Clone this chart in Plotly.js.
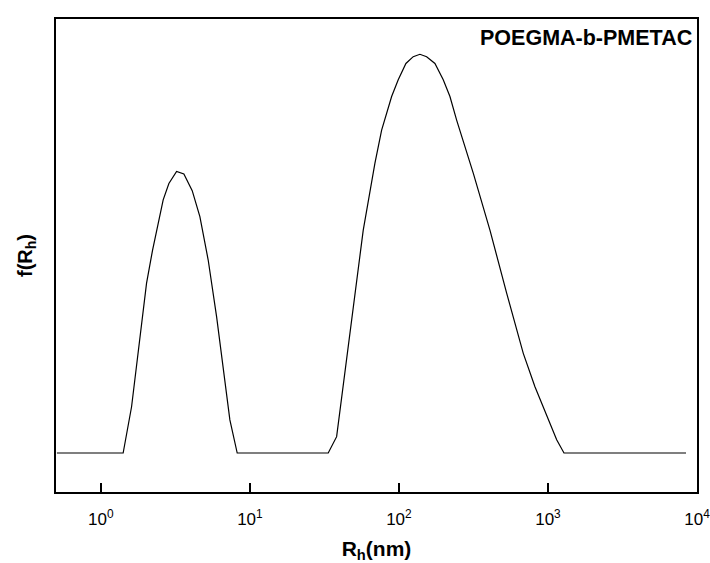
<!DOCTYPE html>
<html>
<head>
<meta charset="utf-8">
<script src="https://cdn.plot.ly/plotly-3.0.1.min.js"></script>
<style>html,body{margin:0;padding:0;background:#fff}#chart{width:710px;height:563px}</style>
</head>
<body>
<div id="chart"></div>
<script>
// Hydrodynamic radius (nm) and distribution f(Rh)
const rh = [0.507, 1.411, 1.607, 1.780, 2.026, 2.223, 2.489, 2.619, 2.860, 3.222, 3.606, 4.101, 4.617, 5.250, 5.977, 6.619, 7.339, 8.218,
            33.54, 38.19, 44.29, 50.67, 57.61, 69.03, 76.54, 89.33, 98.92, 111.4, 124.7, 138.3, 153.4, 174.4, 198.3, 219.9, 243.9, 315.3, 408.0, 528.2, 682.9, 817.8, 1004.7, 1144, 1281, 8438];
const fRh = [0, 0, 0.116, 0.258, 0.426, 0.509, 0.593, 0.635, 0.676, 0.706, 0.700, 0.658, 0.593, 0.484, 0.342, 0.216, 0.083, 0,
             0, 0.041, 0.225, 0.392, 0.559, 0.727, 0.810, 0.894, 0.936, 0.977, 0.994, 1.0, 0.994, 0.977, 0.936, 0.894, 0.835, 0.702, 0.559, 0.401, 0.250, 0.166, 0.083, 0.033, 0, 0];
const tickVals = [1, 10, 100, 1000, 10000];
const tickLabels = ['10<sup>0</sup>', '10<sup>1</sup>', '10<sup>2</sup>', '10<sup>3</sup>', '10<sup>4</sup>'];
const sampleLabel = 'POEGMA-b-PMETAC';

const trace = {x: rh, y: fRh, type: 'scatter', mode: 'lines', line: {color: '#000', width: 1.2}, hoverinfo: 'skip'};
const font = 'Liberation Sans, Arial, sans-serif';
const layout = {
  width: 710, height: 563,
  margin: {l: 56, r: 13, t: 19, b: 71},
  paper_bgcolor: '#fff', plot_bgcolor: '#fff',
  showlegend: false,
  font: {family: font, color: '#000'},
  xaxis: {
    type: 'log', range: [Math.log10(0.5), 4],
    tickmode: 'array', tickvals: tickVals, ticktext: tickLabels,
    ticks: 'inside', ticklen: 9, tickwidth: 1.5, tickcolor: '#000',
    ticklabelstandoff: 11, ticklabeloverflow: 'allow',
    showline: true, linecolor: '#000', linewidth: 2, mirror: true,
    showgrid: false, zeroline: false,
    tickfont: {family: font, size: 17, color: '#000'},
    title: {text: '<b>R<sub>h</sub>(nm)</b>', font: {family: font, size: 21, color: '#000'}, standoff: 14}
  },
  yaxis: {
    range: [-0.0978, 1.0885],
    showticklabels: false, ticks: '',
    showline: true, linecolor: '#000', linewidth: 2, mirror: true,
    showgrid: false, zeroline: false,
    title: {text: '<b>f(R<sub>h</sub>)</b>', font: {family: font, size: 20, color: '#000'}, standoff: 16}
  },
  annotations: [{
    text: '<b>' + sampleLabel + '</b>', xref: 'paper', yref: 'paper', x: 0.995, y: 0.99,
    xanchor: 'right', yanchor: 'top', showarrow: false,
    font: {family: font, size: 21.5, color: '#000'}
  }]
};
Plotly.newPlot('chart', [trace], layout, {displayModeBar: false, staticPlot: true});
</script>
</body>
</html>
